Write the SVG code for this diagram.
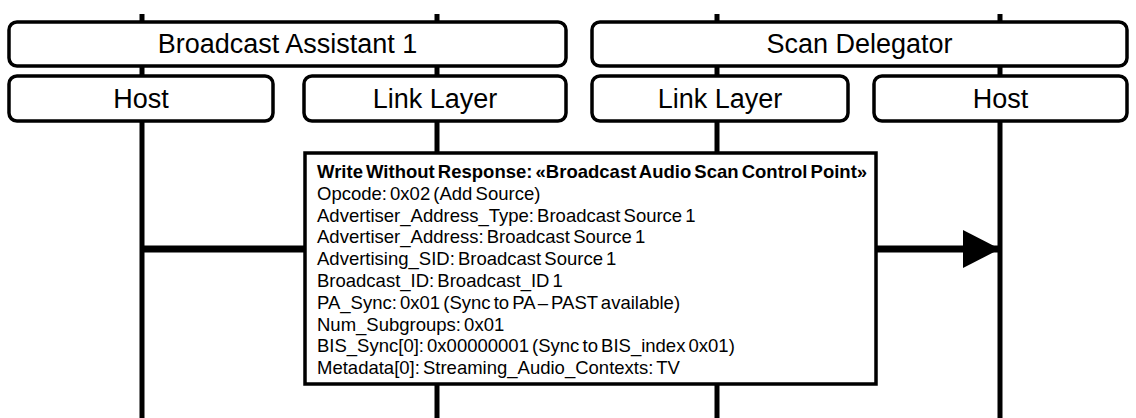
<svg xmlns="http://www.w3.org/2000/svg" width="1136" height="418" viewBox="0 0 1136 418">
<style>
.life{stroke:#000;stroke-width:5;fill:none}
.hdr{fill:#fff;stroke:#000;stroke-width:3.5}
.ht{font-family:"Liberation Sans",Arial,sans-serif;font-size:27px;fill:#000;text-anchor:middle}
.msg{fill:#fff;stroke:#000;stroke-width:3.5}
.mt{font-family:"Liberation Sans",Arial,sans-serif;font-size:18.5px;fill:#000;word-spacing:-2px}
.mtb{font-weight:bold}
</style>
<defs>
<marker id="ah" markerUnits="userSpaceOnUse" markerWidth="40" markerHeight="40" refX="37" refY="19" orient="auto">
<path d="M0,0 L37,19 L0,38 Z" fill="#000"/>
</marker>
</defs>
<g id="lifelines">
<line class="life" x1="142" y1="14" x2="142" y2="418"/>
<line class="life" x1="437" y1="14" x2="437" y2="418"/>
<line class="life" x1="717" y1="14" x2="717" y2="418"/>
<line class="life" x1="1000" y1="14" x2="1000" y2="418"/>
</g>
<g id="ba1">
<rect class="hdr" x="9" y="22" width="557" height="44" rx="8"/>
<text class="ht" x="287.5" y="53">Broadcast Assistant 1</text>
</g>
<g id="sd">
<rect class="hdr" x="592" y="22" width="535" height="44" rx="8"/>
<text class="ht" x="859.5" y="53">Scan Delegator</text>
</g>
<g id="ba1-host">
<rect class="hdr" x="9" y="76" width="264" height="45" rx="8"/>
<text class="ht" x="141" y="108">Host</text>
</g>
<g id="ba1-ll">
<rect class="hdr" x="304" y="76" width="262" height="45" rx="8"/>
<text class="ht" x="435" y="108">Link Layer</text>
</g>
<g id="sd-ll">
<rect class="hdr" x="592" y="76" width="256" height="45" rx="8"/>
<text class="ht" x="720" y="108">Link Layer</text>
</g>
<g id="sd-host">
<rect class="hdr" x="874" y="76" width="253" height="45" rx="8"/>
<text class="ht" x="1000.5" y="108">Host</text>
</g>
<g id="connectors">
<line x1="142" y1="249" x2="1000" y2="249" stroke="#000" stroke-width="7" marker-end="url(#ah)"/>
</g>
<g id="message">
<rect class="msg" x="305" y="153" width="571" height="231"/>
<text class="mt mtb" x="317" y="178">Write Without Response: «Broadcast Audio Scan Control Point»</text>
<text class="mt" x="317" y="199.8">Opcode: 0x02 (Add Source)</text>
<text class="mt" x="317" y="221.6">Advertiser_Address_Type: Broadcast Source 1</text>
<text class="mt" x="317" y="243.4">Advertiser_Address: Broadcast Source 1</text>
<text class="mt" x="317" y="265.2">Advertising_SID: Broadcast Source 1</text>
<text class="mt" x="317" y="287">Broadcast_ID: Broadcast_ID 1</text>
<text class="mt" x="317" y="308.8">PA_Sync: 0x01 (Sync to PA – PAST available)</text>
<text class="mt" x="317" y="330.6">Num_Subgroups: 0x01</text>
<text class="mt" x="317" y="352.4">BIS_Sync[0]: 0x00000001 (Sync to BIS_index 0x01)</text>
<text class="mt" x="317" y="374.2">Metadata[0]: Streaming_Audio_Contexts: TV</text>
</g>
</svg>
